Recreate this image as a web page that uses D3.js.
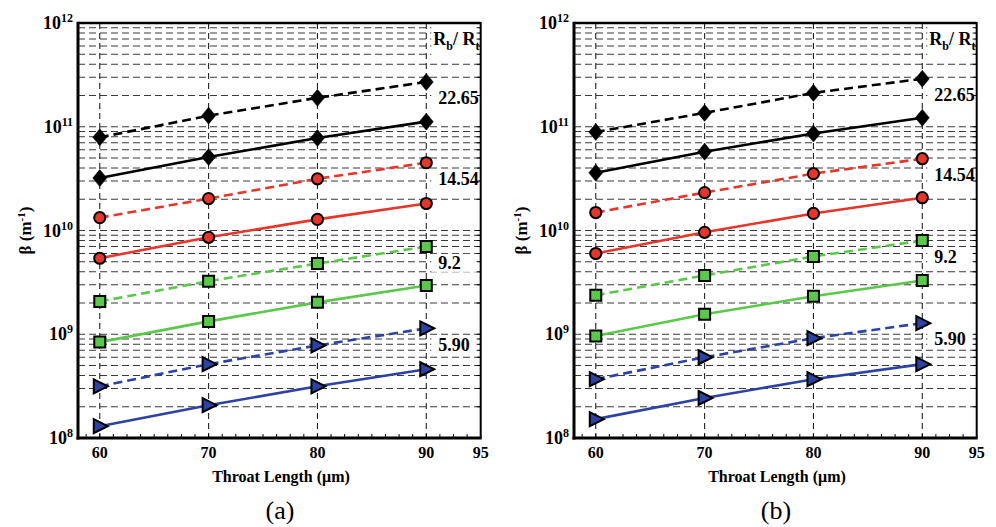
<!DOCTYPE html>
<html>
<head>
<meta charset="utf-8">
<script src="https://cdn.jsdelivr.net/npm/d3@7"></script>
<style>
  body { margin: 0; background: #fff; }
  svg { display: block; }
</style>
</head>
<body>
<svg id="chart" width="996" height="527" font-family="'Liberation Serif', 'Times New Roman', Times, serif"></svg>
<script>
// ---- data ----
const throatLength = [60, 70, 80, 90];
const xTickValues = [60, 70, 80, 90, 95];
const yTickExponents = [8, 9, 10, 11, 12];
const ratioLabels = ["22.65", "14.54", "9.2", "5.90"];
const panelNames = ["(a)", "(b)"];

// panel (a): beta vs throat length, dashed and solid curve per ratio
const a_r2265_dashed = [7.9e10, 1.28e11, 1.9e11, 2.7e11];
const a_r2265_solid  = [3.2e10, 5.1e10, 7.8e10, 1.12e11];
const a_r1454_dashed = [1.33e10, 2.03e10, 3.15e10, 4.5e10];
const a_r1454_solid  = [5.4e9, 8.6e9, 1.28e10, 1.82e10];
const a_r92_dashed   = [2.07e9, 3.25e9, 4.8e9, 7.0e9];
const a_r92_solid    = [8.4e8, 1.33e9, 2.03e9, 2.95e9];
const a_r590_dashed  = [3.15e8, 5.15e8, 7.8e8, 1.14e9];
const a_r590_solid   = [1.3e8, 2.07e8, 3.15e8, 4.6e8];

// panel (b)
const b_r2265_dashed = [8.9e10, 1.36e11, 2.12e11, 2.9e11];
const b_r2265_solid  = [3.6e10, 5.75e10, 8.6e10, 1.22e11];
const b_r1454_dashed = [1.49e10, 2.32e10, 3.53e10, 4.92e10];
const b_r1454_solid  = [6.0e9, 9.6e9, 1.46e10, 2.07e10];
const b_r92_dashed   = [2.37e9, 3.69e9, 5.62e9, 8.0e9];
const b_r92_solid    = [9.6e8, 1.56e9, 2.32e9, 3.3e9];
const b_r590_dashed  = [3.69e8, 6.0e8, 9.16e8, 1.28e9];
const b_r590_solid   = [1.52e8, 2.43e8, 3.69e8, 5.15e8];

const panelSeries = [
  [[a_r2265_dashed, a_r2265_solid], [a_r1454_dashed, a_r1454_solid],
   [a_r92_dashed, a_r92_solid], [a_r590_dashed, a_r590_solid]],
  [[b_r2265_dashed, b_r2265_solid], [b_r1454_dashed, b_r1454_solid],
   [b_r92_dashed, b_r92_solid], [b_r590_dashed, b_r590_solid]]
];

// ---- styling ----
const FONT = "Liberation Serif";
const groupColors = ["#000000", "#e5362b", "#5cc84b", "#2c43a3"];
const markerShapes = ["diamond", "circle", "square", "triangle"];

const markerPath = {
  diamond: "M0,-8.5L7,0L0,8.5L-7,0Z",
  square: "M-5.5,-5.5H5.5V5.5H-5.5Z",
  triangle: "M-6,-7L8,0L-6,7Z"
};

const svg = d3.select("#chart");
const panelOffsets = [0, 496];

panelOffsets.forEach((ox, pi) => {
  const g = svg.append("g").attr("transform", `translate(${ox},0)`)
    .attr("font-family", FONT);
  const x = d3.scaleLinear().domain([58, 95]).range([78, 480.7]);
  const y = d3.scaleLog().domain([1e8, 1e12]).range([438, 23]);
  const [x0, x1] = x.range();
  const [yB, yT] = y.range();

  // horizontal dashed grid at every k*10^n
  const gridVals = [];
  for (let e = 8; e < 12; e++) {
    for (let k = 1; k <= 9; k++) {
      const v = k * Math.pow(10, e);
      if (v > 1e8) gridVals.push(v);
    }
  }
  g.append("g").selectAll("line").data(gridVals).join("line")
    .attr("x1", x0).attr("x2", x1)
    .attr("y1", d => y(d)).attr("y2", d => y(d))
    .attr("stroke", "#3a3a3a").attr("stroke-width", 1.1)
    .attr("stroke-dasharray", "7,4");

  // vertical dashed grid
  g.append("g").selectAll("line").data(throatLength).join("line")
    .attr("x1", d => x(d)).attr("x2", d => x(d))
    .attr("y1", yT).attr("y2", yB)
    .attr("stroke", "#222").attr("stroke-width", 1.1)
    .attr("stroke-dasharray", "6,4");

  // series lines
  const line = d3.line().x((d, i) => x(throatLength[i])).y(d => y(d));
  panelSeries[pi].forEach((pair, gi) => {
    const col = groupColors[gi];
    g.append("path").datum(pair[0]).attr("d", line)
      .attr("fill", "none").attr("stroke", col).attr("stroke-width", 2.6)
      .attr("stroke-dasharray", "9,5");
    g.append("path").datum(pair[1]).attr("d", line)
      .attr("fill", "none").attr("stroke", col).attr("stroke-width", 2.6);
  });

  // markers
  panelSeries[pi].forEach((pair, gi) => {
    const col = groupColors[gi];
    const shape = markerShapes[gi];
    pair.forEach(vals => {
      const sel = g.append("g").selectAll("g").data(vals).join("g")
        .attr("transform", (d, i) => `translate(${x(throatLength[i])},${y(d)})`);
      if (shape === "circle") {
        sel.append("circle").attr("r", 5.6)
          .attr("fill", col).attr("stroke", "#000").attr("stroke-width", 2);
      } else {
        sel.append("path").attr("d", markerPath[shape])
          .attr("fill", col).attr("stroke", "#000")
          .attr("stroke-width", shape === "diamond" ? 0.5 : 2)
          .attr("stroke-linejoin", "miter");
      }
    });
  });

  // ratio labels with white backing
  const labX = x(90) + 12;
  const boxX = x(90) + 5;
  const boxW = x1 - boxX - 1.5;
  panelSeries[pi].forEach((pair, gi) => {
    const ly = y(pair[0][3]) + 16;
    const t = g.append("text").attr("x", labX).attr("y", ly)
      .attr("dy", "0.35em").attr("font-size", 18).attr("font-weight", "bold")
      .text(ratioLabels[gi]);
    const bb = t.node().getBBox();
    g.insert("rect", "text").attr("x", boxX).attr("y", bb.y + 1)
      .attr("width", boxW).attr("height", bb.height - 2)
      .attr("fill", "#fff");
  });

  // Rb / Rt header
  const hdr = g.append("text").attr("x", x(90) + 7).attr("y", 45)
    .attr("font-size", 18).attr("font-weight", "bold");
  hdr.append("tspan").text("R");
  hdr.append("tspan").attr("font-size", 12).attr("dy", 5).text("b");
  hdr.append("tspan").attr("dy", -5).text("/ R");
  hdr.append("tspan").attr("font-size", 12).attr("dy", 5).text("t");
  g.insert("rect", "text").attr("x", boxX).attr("y", yT + 2)
    .attr("width", boxW).attr("height", 31)
    .attr("fill", "#fff");

  // frame
  g.append("line").attr("x1", x0).attr("x2", x1).attr("y1", yT).attr("y2", yT)
    .attr("stroke", "#000").attr("stroke-width", 2.6);
  g.append("line").attr("x1", x1).attr("x2", x1).attr("y1", yT - 1).attr("y2", yB)
    .attr("stroke", "#000").attr("stroke-width", 2);
  g.append("line").attr("x1", x0).attr("x2", x0).attr("y1", yT - 1.3).attr("y2", yB + 1.5)
    .attr("stroke", "#000").attr("stroke-width", 3);
  g.append("line").attr("x1", x0 - 1.5).attr("x2", x1 + 1).attr("y1", yB).attr("y2", yB)
    .attr("stroke", "#000").attr("stroke-width", 3);

  // right axis inward ticks
  g.append("g").selectAll("line").data(gridVals).join("line")
    .attr("x1", x1 - 4).attr("x2", x1)
    .attr("y1", d => y(d)).attr("y2", d => y(d))
    .attr("stroke", "#000").attr("stroke-width", 1);

  // bottom minor ticks
  const minorX = d3.range(58.75, 95, 1.25);
  g.append("g").selectAll("line").data(minorX).join("line")
    .attr("x1", d => x(d)).attr("x2", d => x(d))
    .attr("y1", yB - 4).attr("y2", yB)
    .attr("stroke", "#000").attr("stroke-width", 1);

  // x tick labels
  g.append("g").selectAll("text").data(xTickValues).join("text")
    .attr("x", d => x(d)).attr("y", 458)
    .attr("text-anchor", "middle").attr("font-size", 16).attr("font-weight", "bold")
    .text(d => d);

  // y tick labels (10^n)
  const yl = g.append("g").selectAll("text").data(yTickExponents).join("text")
    .attr("x", x0 - 5).attr("y", d => y(Math.pow(10, d)) + 6)
    .attr("text-anchor", "end").attr("font-weight", "bold").attr("font-size", 18);
  yl.append("tspan").text("10");
  yl.append("tspan").attr("font-size", 12).attr("dy", -7).text(d => d);

  // axis titles
  g.append("text").attr("x", 281).attr("y", 482)
    .attr("text-anchor", "middle").attr("font-size", 16).attr("font-weight", "bold")
    .text("Throat Length (μm)");

  const yt = g.append("text")
    .attr("transform", `translate(31,${(yT + yB) / 2}) rotate(-90)`)
    .attr("text-anchor", "middle").attr("font-size", 17).attr("font-weight", "bold");
  yt.append("tspan").text("β (m");
  yt.append("tspan").attr("font-size", 11).attr("dy", -6).text("-1");
  yt.append("tspan").attr("dy", 6).text(")");

  // panel caption
  g.append("text").attr("x", 280).attr("y", 519)
    .attr("text-anchor", "middle").attr("font-size", 26)
    .text(panelNames[pi]);
});
</script>
</body>
</html>
